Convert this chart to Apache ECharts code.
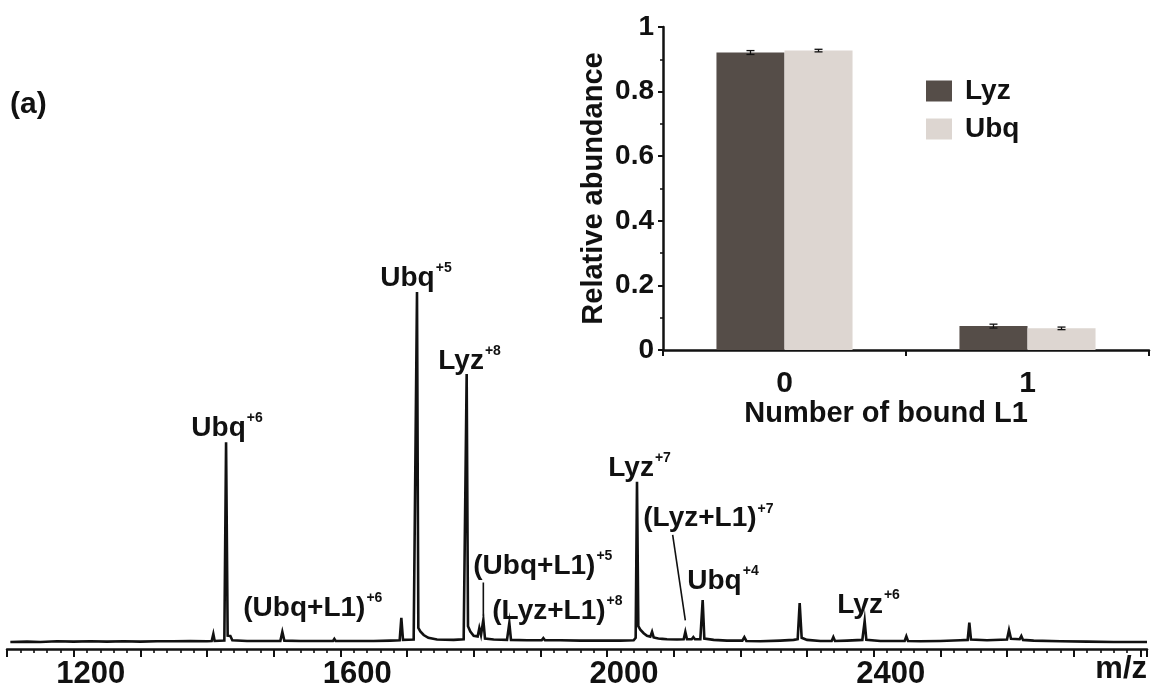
<!DOCTYPE html>
<html>
<head>
<meta charset="utf-8">
<script src="https://cdn.jsdelivr.net/npm/echarts@6/dist/echarts.min.js"></script>
<style>
html,body{margin:0;padding:0;background:#fff;}
#chart{width:1151px;height:691px;}
</style>
</head>
<body>
<div id="chart"></div>
<script>
// ---------- Mass spectrum: [m/z, relative intensity (Ubq+5 = 100)] ----------
const spectrumPoints = [
  [1105,0.0],[1130,0.1],[1150,0.0],[1175,0.2],[1200,0.1],[1225,0.2],[1250,0.1],[1275,0.2],
  [1300,0.1],[1325,0.2],[1350,0.2],[1375,0.3],[1400,0.2],[1407,0.3],[1409.5,2.3],[1411.5,0.3],
  [1426,0.4],[1428.6,57.1],[1431,1.8],[1435,1.7],[1438,0.5],[1460,0.3],[1490,0.3],[1510,0.3],
  [1513,2.9],[1516,0.4],[1540,0.3],[1570,0.3],[1589,0.3],[1591,0.9],[1593,0.3],[1620,0.3],
  [1650,0.3],[1675,0.4],[1689,0.5],[1691.5,6.9],[1694,0.6],[1710,0.7],[1713,1.2],[1715,100],
  [1717,4.0],[1720,3.0],[1725,2.0],[1732,1.2],[1745,0.7],[1770,0.6],[1785,0.8],[1787.5,1.3],
  [1789.5,76.6],[1791.5,4.5],[1795,3.0],[1800,1.8],[1806,1.6],[1808.5,4.0],[1811,2.0],[1814.5,6.3],
  [1817,1.0],[1830,0.7],[1850,0.6],[1853.5,5.4],[1856,0.6],[1880,0.5],[1902,0.5],[1904.5,1.1],
  [1907,0.5],[1930,0.5],[1960,0.4],[1990,0.4],[2020,0.4],[2040,0.5],[2043,1.2],[2045,45.8],
  [2047,4.5],[2050,3.5],[2055,2.5],[2060,1.8],[2065,1.5],[2067.6,2.9],[2070,1.3],[2077,1.0],
  [2080,1.4],[2083,0.9],[2090,0.8],[2105,0.7],[2115,0.8],[2117.5,2.9],[2120,0.8],[2127,0.8],
  [2129.5,1.4],[2132,0.8],[2140,0.8],[2143.5,12.0],[2146,1.0],[2160,0.6],[2180,0.4],[2203,0.4],
  [2206,1.4],[2209,0.3],[2230,0.2],[2260,0.4],[2280,0.6],[2286,0.8],[2289,11.1],[2292,1.2],
  [2300,0.6],[2320,0.3],[2337,0.3],[2339.5,1.4],[2342,0.3],[2360,0.4],[2383,0.6],[2386.5,6.0],
  [2389,0.6],[2410,0.3],[2430,0.3],[2446.5,0.3],[2449,1.6],[2451.5,0.3],[2470,0.2],[2500,0.3],
  [2530,0.5],[2541,0.6],[2543.5,5.5],[2546,0.7],[2570,0.5],[2600,0.7],[2603,3.4],[2606,0.9],
  [2619,0.8],[2621.5,1.7],[2624,0.6],[2640,0.4],[2680,0.2],[2720,0.1],[2760,0.0],[2800,0.0],
  [2810,0.0]
];
const xTickLabels = [1200, 1600, 2000, 2400];

// peak annotations (left edge m/z, vertical centre in intensity units)
const annotationText = ['Ubq','Ubq','Lyz','Lyz','(Lyz+L1)','Ubq','Lyz','(Ubq+L1)','(Ubq+L1)','(Lyz+L1)'];
const annotationSup  = ['+6','+5','+8','+7','+7','+4','+6','+6','+5','+8'];
const annotationMz   = [1376.6,1660,1747,2002,2054.5,2120.5,2345.5,1454.5,1799.5,1828];
const annotationY    = [61.0,103.9,80.3,49.7,35.2,17.4,10.6,9.7,21.7,8.9];

// leader lines for the L1 adduct labels
const leaderUbqL1 = [[1814.5,17.0],[1814.5,7.5]];
const leaderLyzL1 = [[2098.5,30.6],[2117.5,6.2]];

// ---------- Inset bar chart ----------
const categories = ['0','1'];
const lyzValues = [0.921, 0.074];
const ubqValues = [0.927, 0.067];
const lyzErrors = [0.006, 0.006];
const ubqErrors = [0.004, 0.004];

const FONT = 'Liberation Sans, Arial, Helvetica, sans-serif';
const INK = '#111111';

const annotations = annotationText.map((t, i) => ({
  value: [annotationMz[i], annotationY[i]],
  label: { formatter: '{m|' + t + '}{s|' + annotationSup[i] + '}' }
}));

function errorSeries(values, errors, side) {
  return {
    type: 'custom', xAxisIndex: 1, yAxisIndex: 1, silent: true, z: 5,
    data: values.map((v, i) => [i, v, errors[i]]),
    renderItem: function (params, api) {
      const band = api.size([1, 0])[0];
      const c = api.coord([api.value(0), api.value(1)]);
      const x = c[0] + side * band * 0.14;
      const top = api.coord([api.value(0), api.value(1) + api.value(2)])[1];
      const bot = api.coord([api.value(0), api.value(1) - api.value(2)])[1];
      const cap = 4;
      const st = { stroke: '#111', lineWidth: 1.3 };
      return { type: 'group', children: [
        { type: 'line', shape: { x1: x, y1: top, x2: x, y2: bot }, style: st },
        { type: 'line', shape: { x1: x - cap, y1: top, x2: x + cap, y2: top }, style: st },
        { type: 'line', shape: { x1: x - cap, y1: bot, x2: x + cap, y2: bot }, style: st }
      ]};
    }
  };
}

const chart = echarts.init(document.getElementById('chart'), null, { renderer: 'canvas' });
chart.setOption({
  animation: false,
  backgroundColor: '#ffffff',
  textStyle: { fontFamily: FONT },
  grid: [
    { left: 7, right: 4, top: 257, bottom: 42, containLabel: false },
    { left: 663, right: 2, top: 27, bottom: 341, containLabel: false }
  ],
  legend: {
    data: ['Lyz', 'Ubq'],
    orient: 'vertical', left: 921, top: 72,
    itemWidth: 26, itemHeight: 21, itemGap: 10, icon: 'rect',
    textStyle: { fontFamily: FONT, fontSize: 28, fontWeight: 'bold', color: INK, padding: [0, 0, 0, 8] }
  },
  xAxis: [
    {
      type: 'value', gridIndex: 0, min: 1100, max: 2810, interval: 100,
      axisLine: { show: true, onZero: false, lineStyle: { color: '#111', width: 2.5 } },
      axisTick: { show: true, length: 8, lineStyle: { color: '#111', width: 2 } },
      minorTick: { show: true, splitNumber: 5, length: 4, lineStyle: { color: '#111', width: 1.6 } },
      splitLine: { show: false },
      axisLabel: {
        margin: 10, fontFamily: FONT, fontSize: 31, fontWeight: 'bold', color: INK,
        padding: [0, 0, 0, 34],
        formatter: v => (xTickLabels.indexOf(v) >= 0 ? String(v) : '')
      }
    },
    {
      type: 'category', gridIndex: 1, data: categories,
      axisLine: { show: true, lineStyle: { color: '#111', width: 2.5 } },
      axisTick: { show: true, alignWithLabel: false, length: 6, lineStyle: { color: '#111', width: 2 } },
      axisLabel: { margin: 19, fontFamily: FONT, fontSize: 30, fontWeight: 'bold', color: INK },
      name: 'Number of bound L1', nameLocation: 'middle', nameGap: 47,
      nameTextStyle: { fontFamily: FONT, fontSize: 29, fontWeight: 'bold', color: INK, padding: [0, 40, 0, 0] }
    }
  ],
  yAxis: [
    { type: 'value', gridIndex: 0, min: -2, max: 110, show: false, splitLine: { show: false } },
    {
      type: 'value', gridIndex: 1, min: 0, max: 1, interval: 0.2,
      axisLine: { show: true, lineStyle: { color: '#111', width: 2.5 } },
      axisTick: { show: true, length: 5, lineStyle: { color: '#111', width: 2 } },
      minorTick: { show: true, splitNumber: 2, length: 3, lineStyle: { color: '#111', width: 1.5 } },
      splitLine: { show: false },
      axisLabel: { margin: 9, fontFamily: FONT, fontSize: 28, fontWeight: 'bold', color: INK },
      name: 'Relative abundance', nameLocation: 'middle', nameGap: 55, nameRotate: 90,
      nameTextStyle: { fontFamily: FONT, fontSize: 29, fontWeight: 'bold', color: INK }
    }
  ],
  series: [
    {
      name: 'spectrum', type: 'line', xAxisIndex: 0, yAxisIndex: 0,
      data: spectrumPoints, showSymbol: false, symbol: 'none', silent: true,
      lineStyle: { color: '#111', width: 2.6, join: 'miter' }, z: 3
    },
    {
      type: 'line', xAxisIndex: 0, yAxisIndex: 0, data: leaderUbqL1, symbol: 'none', silent: true,
      lineStyle: { color: '#111', width: 1.6 }
    },
    {
      type: 'line', xAxisIndex: 0, yAxisIndex: 0, data: leaderLyzL1, symbol: 'none', silent: true,
      lineStyle: { color: '#111', width: 1.6 }
    },
    {
      type: 'scatter', xAxisIndex: 0, yAxisIndex: 0, data: annotations, silent: true,
      symbolSize: 0.1, itemStyle: { color: 'rgba(0,0,0,0)', opacity: 1 }, z: 6,
      label: {
        show: true, position: [0, 0], align: 'left', verticalAlign: 'middle', opacity: 1, color: INK,
        rich: {
          m: { fontFamily: FONT, fontSize: 28, fontWeight: 'bold', color: INK, lineHeight: 34, verticalAlign: 'middle', opacity: 1 },
          s: { fontFamily: FONT, fontSize: 14, fontWeight: 'bold', color: INK, verticalAlign: 'top', padding: [0, 0, 0, 1], opacity: 1 }
        }
      }
    },
    {
      name: 'Lyz', type: 'bar', xAxisIndex: 1, yAxisIndex: 1, data: lyzValues,
      barWidth: '28%', barGap: '0%', itemStyle: { color: '#554d48' }, silent: true
    },
    {
      name: 'Ubq', type: 'bar', xAxisIndex: 1, yAxisIndex: 1, data: ubqValues,
      barWidth: '28%', barGap: '0%', itemStyle: { color: '#ddd6d1' }, silent: true
    },
    errorSeries(lyzValues, lyzErrors, -1),
    errorSeries(ubqValues, ubqErrors, 1)
  ],
  graphic: [
    { type: 'text', left: 10, top: 90, style: { text: '(a)', font: 'bold 30px ' + FONT, fill: INK } },
    { type: 'text', right: 4, top: 654, style: { text: 'm/z', font: 'bold 31px ' + FONT, fill: INK } }
  ]
});
</script>
</body>
</html>
